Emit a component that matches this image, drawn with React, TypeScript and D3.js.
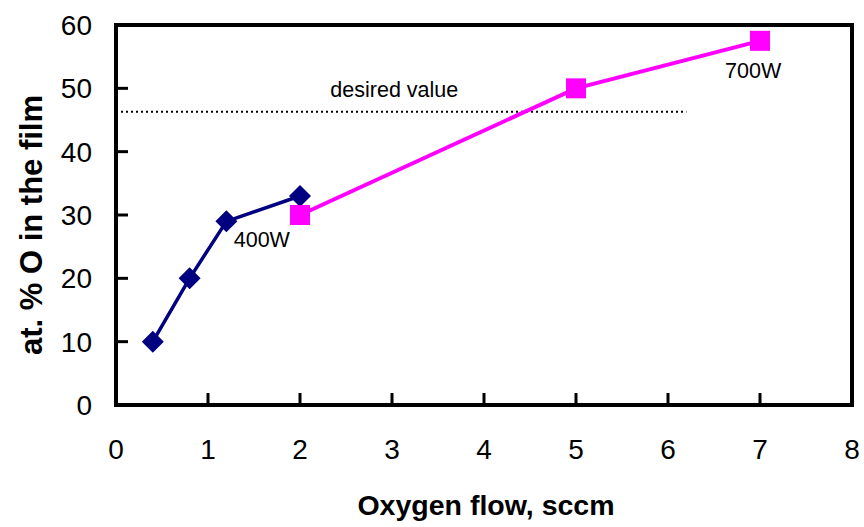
import React from "react";
import * as d3 from "d3";

const xTicks = [0, 1, 2, 3, 4, 5, 6, 7, 8];
const yTicks = [0, 10, 20, 30, 40, 50, 60];

const blueX = [0.4, 0.8, 1.2, 2];
const blueY = [10, 20, 29, 33];
const pinkX = [2, 5, 7];
const pinkY = [30, 50, 57.5];

const desiredValue = 46.3;
const desiredEndX = 6.2;

const labels = [
  { text: "desired value", x: 2.33, y: 48.7 },
  { text: "400W", x: 1.28, y: 25.0 },
  { text: "700W", x: 6.62, y: 51.6 },
];

const W = 864;
const H = 527;
const m = { left: 116, right: 852, top: 25, bottom: 405 };

export default function App() {
  const x = d3.scaleLinear().domain([0, 8]).range([m.left, m.right]);
  const y = d3.scaleLinear().domain([0, 60]).range([m.bottom, m.top]);
  const line = d3
    .line<[number, number]>()
    .x((d) => x(d[0]))
    .y((d) => y(d[1]));
  const blue: [number, number][] = blueX.map((v, i) => [v, blueY[i]]);
  const pink: [number, number][] = pinkX.map((v, i) => [v, pinkY[i]]);
  const font = "Arial, 'Liberation Sans', Helvetica, sans-serif";
  const dia = 11;
  const sq = 20;
  return (
    <svg
      width={W}
      height={H}
      style={{ position: "absolute", left: 0, top: 0, background: "#fff" }}
      fontFamily={font}
    >
      {/* desired value line */}
      <line
        x1={x(0)}
        x2={x(desiredEndX)}
        y1={y(desiredValue)}
        y2={y(desiredValue)}
        stroke="#000"
        strokeWidth={2}
        strokeDasharray="2,3"
      />
      {/* ticks */}
      {yTicks.map((t) => (
        <g key={"y" + t}>
          <line x1={m.left} x2={m.left + 12} y1={y(t)} y2={y(t)} stroke="#000" strokeWidth={3} />
          <text x={92} y={y(t)} dy="0.36em" textAnchor="end" fontSize={28} fill="#000">
            {t}
          </text>
        </g>
      ))}
      {xTicks.map((t) => (
        <g key={"x" + t}>
          <line x1={x(t)} x2={x(t)} y1={m.bottom} y2={m.bottom - 12} stroke="#000" strokeWidth={3} />
          <text x={x(t)} y={459} textAnchor="middle" fontSize={28} fill="#000">
            {t}
          </text>
        </g>
      ))}
      {/* frame */}
      <rect
        x={m.left}
        y={m.top}
        width={m.right - m.left}
        height={m.bottom - m.top}
        fill="none"
        stroke="#000"
        strokeWidth={4}
      />
      {/* blue series */}
      <path d={line(blue) || ""} fill="none" stroke="#000080" strokeWidth={3.5} />
      {blue.map((d, i) => (
        <path
          key={"b" + i}
          d={`M${x(d[0])},${y(d[1]) - dia}L${x(d[0]) + dia},${y(d[1])}L${x(d[0])},${y(d[1]) + dia}L${x(d[0]) - dia},${y(d[1])}Z`}
          fill="#000080"
        />
      ))}
      {/* pink series */}
      <path d={line(pink) || ""} fill="none" stroke="#FF00FF" strokeWidth={4} />
      {pink.map((d, i) => (
        <rect
          key={"p" + i}
          x={x(d[0]) - sq / 2}
          y={y(d[1]) - sq / 2}
          width={sq}
          height={sq}
          fill="#FF00FF"
        />
      ))}
      {/* annotations */}
      {labels.map((l) => (
        <text key={l.text} x={x(l.x)} y={y(l.y)} fontSize={21.5} fill="#000">
          {l.text}
        </text>
      ))}
      {/* axis titles */}
      <text x={486} y={515} textAnchor="middle" fontSize={28.5} fontWeight="bold" fill="#000">
        Oxygen flow, sccm
      </text>
      <text
        transform={`translate(42,225) rotate(-90)`}
        textAnchor="middle"
        fontSize={31}
        fontWeight="bold"
        fill="#000"
      >
        at. % O in the film
      </text>
    </svg>
  );
}
